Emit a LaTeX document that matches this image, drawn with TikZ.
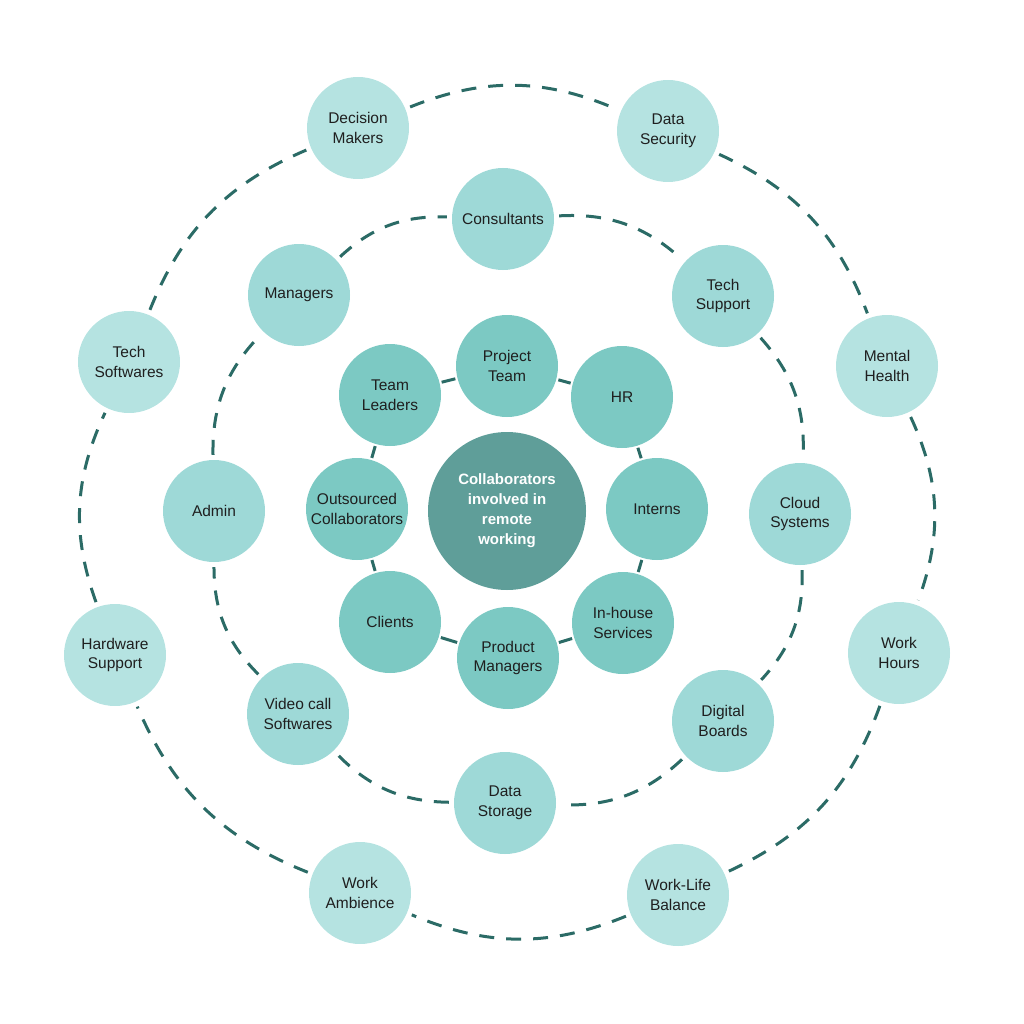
\documentclass[tikz,border=0pt]{standalone}
\usepackage{fontspec}
\setmainfont{Liberation Sans}
\definecolor{innerc}{HTML}{7CC9C3}
\definecolor{midc}{HTML}{9ED9D7}
\definecolor{outerc}{HTML}{B5E3E1}
\definecolor{corec}{HTML}{5F9E99}
\definecolor{linkc}{HTML}{2B6B66}
\begin{document}
\begin{tikzpicture}[x=1pt,y=-1pt,
  bub/.style={circle,minimum size=102pt,inner sep=0pt,align=center,
    font=\fontsize{15.5}{19.5}\selectfont,text=black!88},
  inn/.style={bub,fill=innerc},
  mids/.style={bub,fill=midc},
  outs/.style={bub,fill=outerc},
  corenode/.style={circle,minimum size=158pt,inner sep=0pt,align=center,fill=corec,
    text=white,font=\fontsize{15}{20}\selectfont\bfseries},
  ringline/.style={draw=linkc,line width=3pt,dash pattern=on 15pt off 12pt,
    shorten <=5pt,shorten >=5pt},
  solidlink/.style={draw=linkc,line width=3pt,shorten <=2pt,shorten >=2pt}]
\useasboundingbox (0,0) rectangle (1024,1024);

% centre
\node[corenode] (core) at (507,511) {Collaborators\\involved in\\remote\\working};

% inner ring
\node[inn] (pt) at (507,366) {Project\\Team};
\node[inn] (hr) at (622,397) {HR};
\node[inn] (int) at (657,509) {Interns};
\node[inn] (ihs) at (623,623) {In-house\\Services};
\node[inn] (pm) at (508,658) {Product\\Managers};
\node[inn] (cl) at (390,622) {Clients};
\node[inn] (oc) at (357,509) {Outsourced\\Collaborators};
\node[inn] (tl) at (390,395) {Team\\Leaders};

% middle ring
\node[mids] (con) at (503,219) {Consultants};
\node[mids] (ts) at (723,296) {Tech\\Support};
\node[mids] (cs) at (800,514) {Cloud\\Systems};
\node[mids] (db) at (723,721) {Digital\\Boards};
\node[mids] (ds) at (505,803) {Data\\Storage};
\node[mids] (vc) at (298,714) {Video call\\Softwares};
\node[mids] (adm) at (214,511) {Admin};
\node[mids] (man) at (299,295) {Managers};

% outer ring
\node[outs] (dm) at (358,128) {Decision\\Makers};
\node[outs] (dsec) at (668,131) {Data\\Security};
\node[outs] (mh) at (887,366) {Mental\\Health};
\node[outs] (wh) at (899,653) {Work\\Hours};
\node[outs] (wlb) at (678,895) {Work-Life\\Balance};
\node[outs] (wa) at (360,893) {Work\\Ambience};
\node[outs] (hs) at (115,655) {Hardware\\Support};
\node[outs] (tsw) at (129,362) {Tech\\Softwares};

% inner connectors
\foreach \a/\b in {tl/pt,pt/hr,hr/int,int/ihs,ihs/pm,pm/cl,cl/oc,oc/tl}
  \draw[solidlink] (\a) -- (\b);

% middle dashed ring
\foreach \a/\b in {con/ts,ts/cs,cs/db,db/ds,ds/vc,vc/adm,adm/man,man/con}
  \draw[ringline] (\a) to[bend left=22.5] (\b);

% outer dashed ring
\foreach \a/\b in {dm/dsec,dsec/mh,mh/wh,wh/wlb,wlb/wa,wa/hs,hs/tsw,tsw/dm}
  \draw[ringline] (\a) to[bend left=22.5] (\b);
\end{tikzpicture}
\end{document}
